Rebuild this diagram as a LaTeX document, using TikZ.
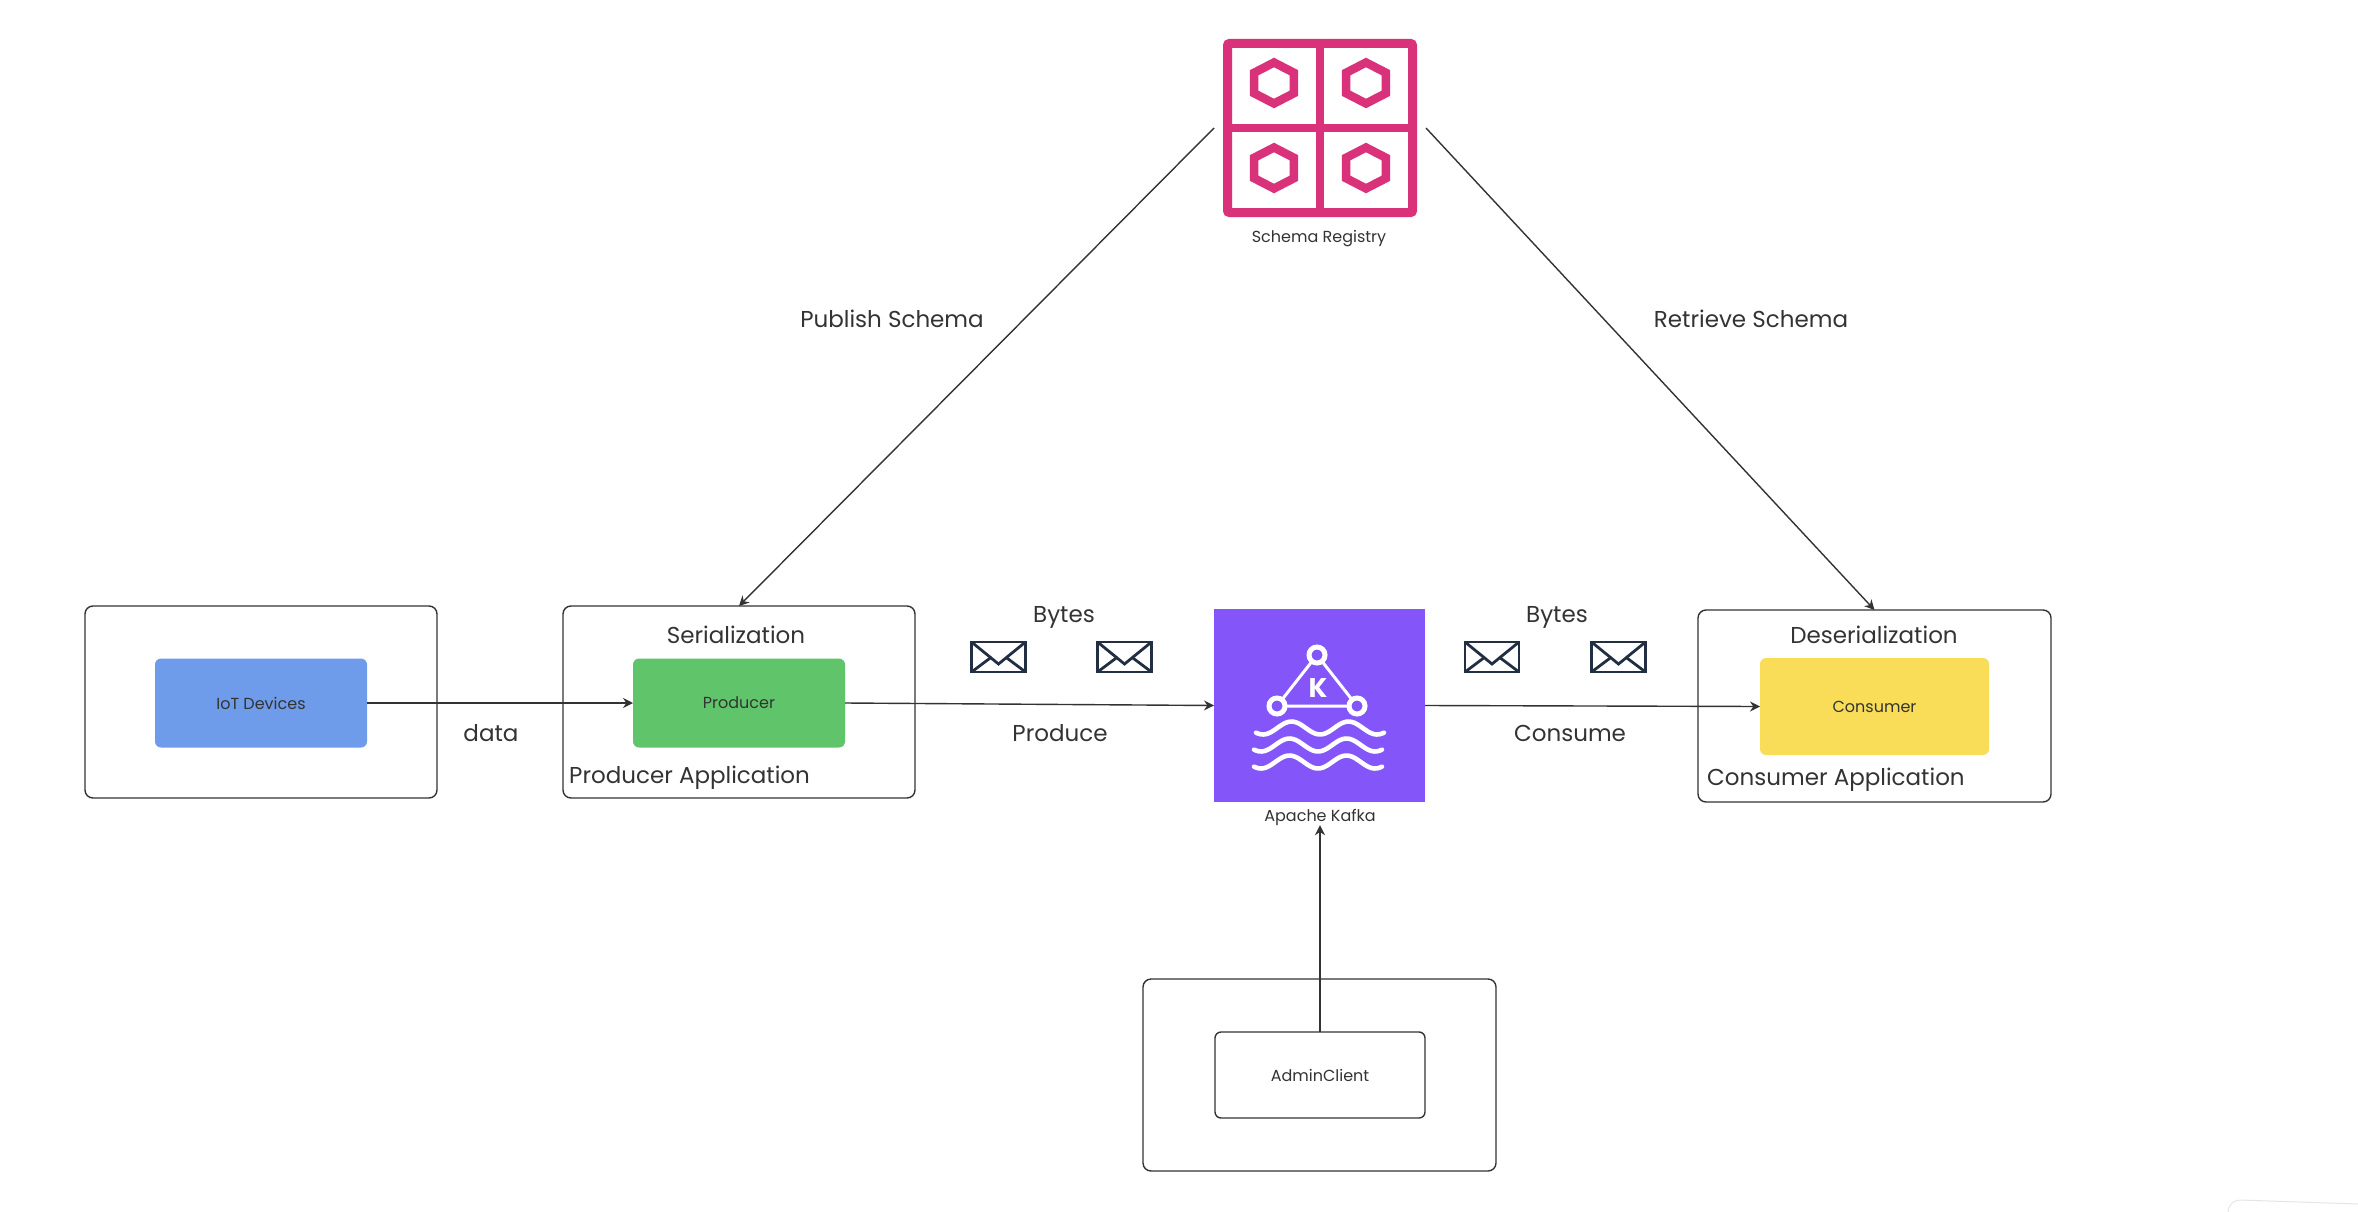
\documentclass[tikz,border=0pt]{standalone}
\usepackage{fontspec}
\setmainfont{Poppins}
\usetikzlibrary{arrows.meta,shapes.geometric}
\definecolor{inkgrey}{HTML}{333333}
\definecolor{iotblue}{HTML}{6F9BEB}
\definecolor{prodgreen}{HTML}{60C46A}
\definecolor{consyellow}{HTML}{F9DD58}
\definecolor{kafkapurple}{HTML}{8455F8}
\definecolor{schemapink}{HTML}{D9327A}
\definecolor{mailnavy}{HTML}{222F42}
\tikzset{
    appbox/.style={draw=inkgrey,line width=1.4pt,rounded corners=8pt,inner sep=0pt,outer sep=0pt},
    workbox/.style={rounded corners=6pt,inner sep=0pt,outer sep=0pt,minimum width=212pt,text=inkgrey,font=\fontsize{16}{18}\selectfont},
    biglabel/.style={inner sep=0pt,text=inkgrey,font=\fontsize{23}{28}\selectfont},
    smalllabel/.style={inner sep=0pt,text=inkgrey,font=\fontsize{16}{18}\selectfont},
    flow/.style={draw=inkgrey,line width=1.4pt,-{Stealth[length=10pt,width=10pt]}},
    hexcell/.style={draw=schemapink,line width=8.5pt,regular polygon,regular polygon sides=6,regular polygon rotate=30,minimum size=41pt,inner sep=0pt,xscale=1.12},
    mailicon/.pic={
        \draw [mailnavy,line width=2.8pt] (-27,-15) rectangle (27,15);
        \draw [mailnavy,line width=2.8pt] (-27,-15)--(0,7)--(27,-15);
        \draw [mailnavy,line width=2.8pt] (-27,15)--(-7,0);
        \draw [mailnavy,line width=2.8pt] (27,15)--(7,0);
    }
}

\begin{document}
\begin{tikzpicture}[x=1pt,y=-1pt]
        \useasboundingbox (0,0) rectangle (2358,1212);

        % schema registry
        \node [draw=schemapink,line width=9pt,rounded corners=2pt,inner sep=0pt,outer sep=13.5pt,minimum width=185pt,minimum height=169pt] (schema) at (1320,128) {};
        \draw [schemapink,line width=8.5pt] (1320,39)--(1320,217);
        \draw [schemapink,line width=8.5pt] (1223,128)--(1417,128);
        \foreach \hexname/\hexx/\hexy in {hexa/1274/83,hexb/1366/83,hexc/1274/168,hexd/1366/168}
            \node [hexcell] (\hexname) at (\hexx,\hexy) {};
        \node [smalllabel] (schemalabel) at (1319,239) {Schema Registry};

        % application boxes
        \node [appbox,minimum width=352pt,minimum height=192pt] (iotapp) at (261,702) {};
        \node [appbox,minimum width=352pt,minimum height=192pt] (prodapp) at (739,702) {};
        \node [appbox,minimum width=353pt,minimum height=192pt] (consapp) at (1874.5,706) {};
        \node [appbox,minimum width=353pt,minimum height=192pt] (adminapp) at (1319.5,1075) {};

        \node [workbox,fill=iotblue,minimum height=89pt] (iot) at (261,703) {IoT Devices};
        \node [workbox,fill=prodgreen,minimum height=89pt] (producer) at (739,703) {Producer};
        \node [workbox,fill=consyellow,minimum width=229pt,minimum height=97pt] (consumer) at (1874.5,706.5) {Consumer};
        \node [workbox,draw=inkgrey,line width=1.4pt,minimum width=210pt,minimum height=86pt] (admin) at (1320,1075) {AdminClient};

        % kafka
        \node [fill=kafkapurple,inner sep=0pt,outer sep=0pt,minimum width=211pt,minimum height=193pt] (kafka) at (1319.5,705.5) {};
        \draw [white,line width=3pt] (1317,655)--(1277,706)--(1357,706)--cycle;
        \foreach \ringx/\ringy in {1317/655,1277/706,1357/706}
            \draw [white,fill=kafkapurple,line width=5pt] (\ringx,\ringy) circle [radius=8];
        \node [text=white,inner sep=0pt,font=\fontsize{27}{30}\selectfont\bfseries] (kafkak) at (1318,688) {K};
        \foreach \wavey/\wavex in {728/1320,745/1318,762/1318}
            \draw [white,line width=4.6pt,line cap=round] plot [domain=-64:64,samples=50,smooth] ({\wavex+\x},{\wavey+6.5*cos(\x*6.316)});
        \node [smalllabel,text height=12pt,text depth=4pt] (kafkalabel) at (1320,817) {Apache Kafka};

        % connectors
        \draw [flow] (schema.west)--(prodapp.north);
        \draw [flow] (schema.east)--(consapp.north);
        \draw [flow] (iot.east)--(producer.west);
        \draw [flow] (producer.east)--(kafka.west);
        \draw [flow] (kafka.east)--(consumer.west);
        \draw [flow] (admin.north)--(kafkalabel.south);

        % labels
        \node [biglabel] (publishlabel) at (892,319) {Publish Schema};
        \node [biglabel] (retrievelabel) at (1751,319) {Retrieve Schema};
        \node [biglabel] (serlabel) at (736,635) {Serialization};
        \node [biglabel] (deserlabel) at (1874,635) {Deserialization};
        \node [biglabel,anchor=west] (prodapplabel) at (569,778) {Producer Application};
        \node [biglabel,anchor=west] (consapplabel) at (1707,780) {Consumer Application};
        \node [biglabel] (datalabel) at (491,733) {data};
        \node [biglabel] (producelabel) at (1060,733) {Produce};
        \node [biglabel] (consumelabel) at (1570,733) {Consume};
        \node [biglabel] (byteslabela) at (1064,617) {Bytes};
        \node [biglabel] (byteslabelb) at (1557,617) {Bytes};

        % envelopes
        \foreach \mailx in {998.5,1124.5,1492,1618.5}
            \pic at (\mailx,657) {mailicon};

        % faint corner of a panel
        \draw [black!10,line width=1pt] (2228,1212) arc [start angle=180,end angle=270,radius=12] -- (2358,1204);
    \end{tikzpicture}
\end{document}
